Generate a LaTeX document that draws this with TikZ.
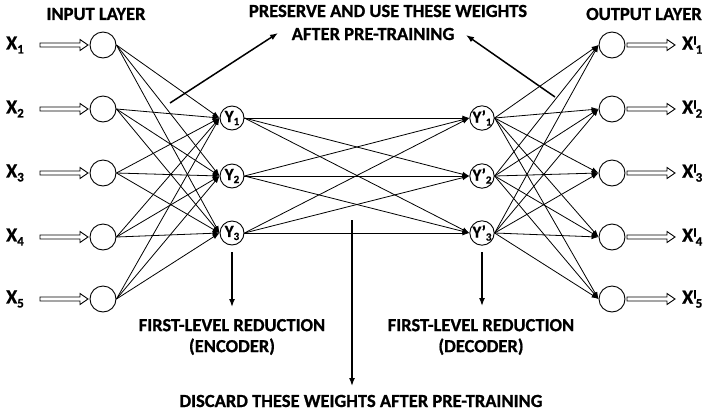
\documentclass[tikz,border=0pt]{standalone}
\usepackage{fontspec}
\setmainfont[BoldFeatures={FakeBold=0.8}]{Carlito}
\usetikzlibrary{arrows.meta}
\tikzset{
  every node/.style={font=\bfseries},
  neuron/.style={draw, circle, line width=0.9pt, minimum size=26pt, inner sep=0pt},
  hidden/.style={draw, circle, line width=0.9pt, minimum size=24pt, inner sep=0pt, font=\bfseries\fontsize{17}{17}\selectfont},
  conn/.style={line width=0.8pt, -{Latex[length=7pt,width=5pt]}},
  fatline/.style={draw, line width=0.9pt, line join=miter},
  note/.style={line width=1.5pt, -{Latex[length=8pt,width=6pt]}},
  lbl/.style={font=\bfseries\fontsize{18.5}{21}\selectfont, inner sep=0pt, align=center},
  xlbl/.style={font=\bfseries\fontsize{20}{20}\selectfont, inner sep=0pt}
}
\newcommand{\xsub}[1]{X\raisebox{-4pt}{\fontsize{13}{13}\selectfont #1}}
\newcommand{\xpsub}[1]{X\raisebox{5pt}{\fontsize{13}{13}\selectfont I}\hspace{-1pt}\raisebox{-4pt}{\fontsize{13}{13}\selectfont #1}}
\newcommand{\ysub}[1]{Y\raisebox{-3pt}{\fontsize{11}{11}\selectfont #1}}
\newcommand{\ypsub}[1]{Y'\raisebox{-3pt}{\fontsize{11}{11}\selectfont #1}}
\newcommand{\hollowarrow}[2]{%
  \draw[fatline] ([yshift=2pt]#1) -- ([shift={(-8pt,2pt)}]#2) -- ([shift={(-8pt,5.5pt)}]#2)
    -- (#2) -- ([shift={(-8pt,-5.5pt)}]#2) -- ([shift={(-8pt,-2pt)}]#2)
    -- ([yshift=-2pt]#1) -- cycle;}
\begin{document}
\begin{tikzpicture}[x=1pt, y=-1pt]
\useasboundingbox (0,0) rectangle (707,413);
% input layer
\foreach \i/\yy in {1/45,2/109,3/173,4/237,5/299}{
  \node[neuron] (in\i) at (103,\yy) {};
  \node[xlbl] (xl\i) at (15,\yy) {\xsub{\i}};
  \coordinate (xs\i) at (40,\yy);
  \coordinate (xe\i) at (88,\yy);
  \hollowarrow{xs\i}{xe\i}
}
% output layer
\foreach \i/\yy in {1/45,2/109,3/173,4/237,5/299}{
  \node[neuron] (out\i) at (612,\yy) {};
  \node[xlbl, anchor=west] (ol\i) at (682,\yy) {\xpsub{\i}};
  \coordinate (os\i) at (627,\yy);
  \coordinate (oe\i) at (675,\yy);
  \hollowarrow{os\i}{oe\i}
}
% hidden layers
\foreach \j/\yy in {1/118,2/176,3/233}{
  \node[hidden] (y\j) at (232,\yy) {\ysub{\j}};
  \node[hidden] (yp\j) at (482,\yy) {\ypsub{\j}};
}
% connections
\foreach \i in {1,...,5}{
  \foreach \j in {1,2,3}{
    \draw[conn] (in\i.east) -- (y\j.west);
    \draw[conn] (yp\j.east) -- (out\i.west);
  }
}
\foreach \j in {1,2,3}{
  \foreach \k in {1,2,3}{
    \draw[conn] (y\j.east) -- (yp\k.west);
  }
}
% titles
\node[lbl] (inlayer) at (96,14) {INPUT LAYER};
\node[lbl] (outlayer) at (644,14) {OUTPUT LAYER};
\node[lbl] (pres1) at (388,11) {PRESERVE AND USE THESE WEIGHTS};
\node[lbl] (pres2) at (373,34) {AFTER PRE-TRAINING};
\node[lbl] (enc) at (232,337) {FIRST-LEVEL REDUCTION\\(ENCODER)};
\node[lbl] (dec) at (481,337) {FIRST-LEVEL REDUCTION\\(DECODER)};
\node[lbl] (disc) at (361,401) {DISCARD THESE WEIGHTS AFTER PRE-TRAINING};
% annotation arrows
\coordinate (pa) at (170,103);
\coordinate (pb) at (278,33);
\draw[note] (pa) -- (pb);
\coordinate (qa) at (555,97);
\coordinate (qb) at (466,35);
\draw[note] (qa) -- (qb);
\coordinate (da) at (352,220);
\coordinate (db) at (352,386);
\draw[note] (da) -- (db);
\coordinate (ea) at (232,252);
\coordinate (eb) at (232,307);
\draw[note] (ea) -- (eb);
\coordinate (fa) at (482,252);
\coordinate (fb) at (482,306);
\draw[note] (fa) -- (fb);
\end{tikzpicture}
\end{document}
